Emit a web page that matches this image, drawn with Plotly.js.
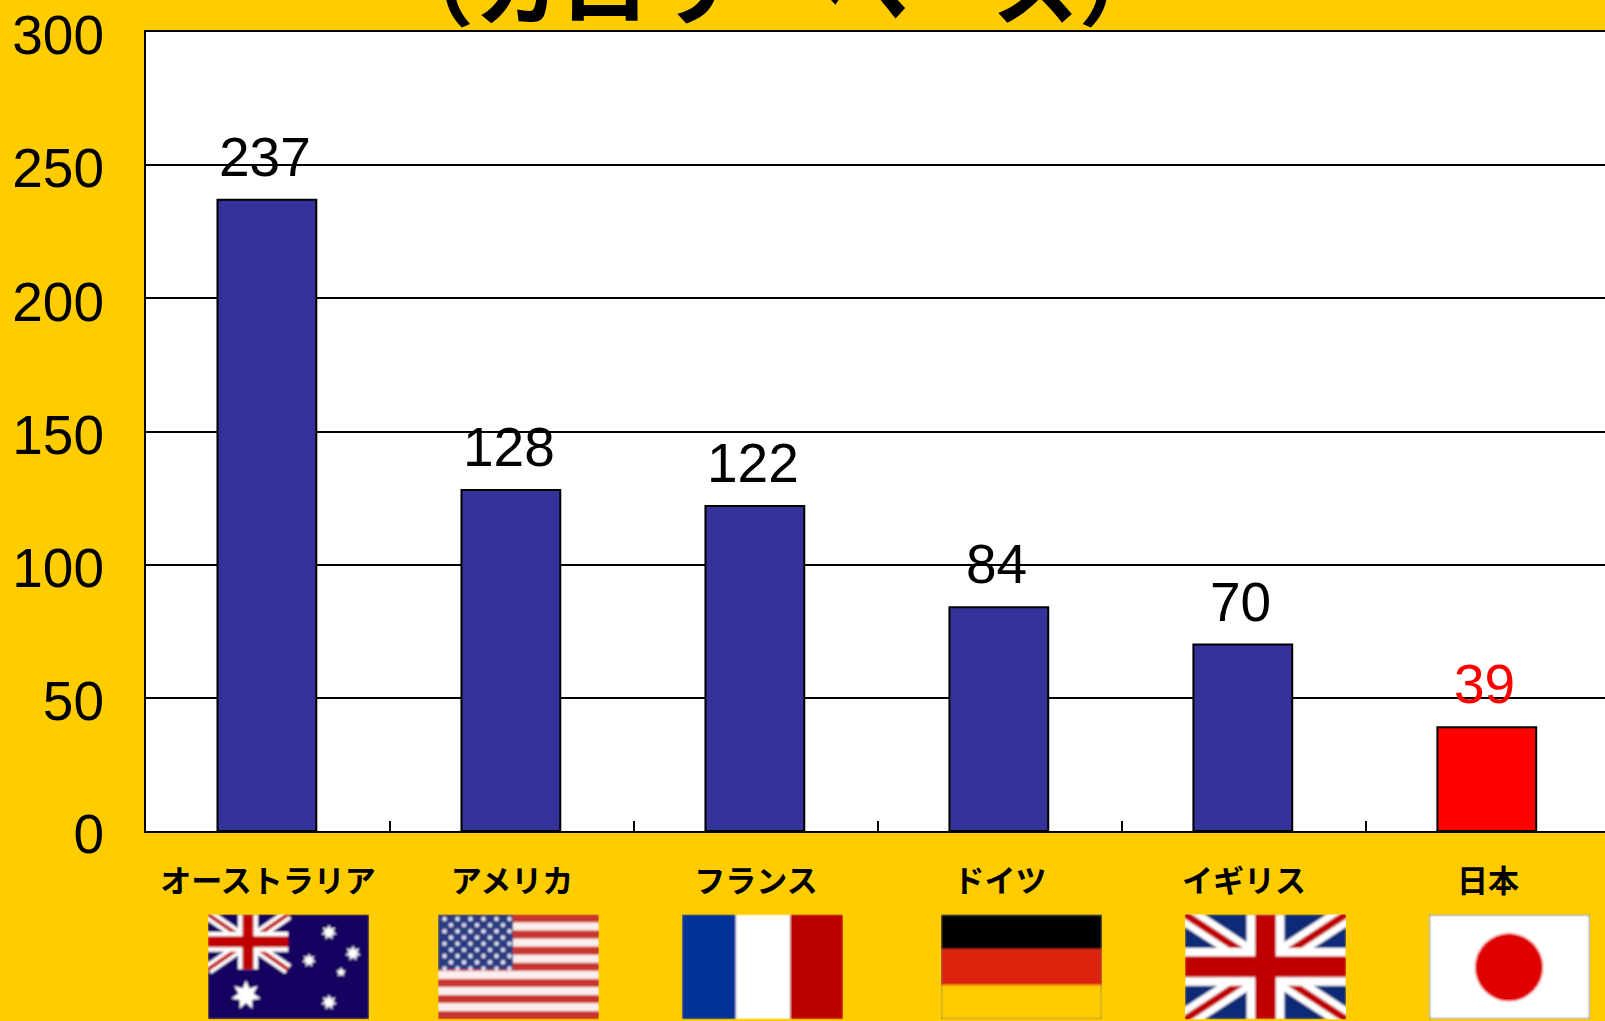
<!DOCTYPE html>
<html><head><meta charset="utf-8">
<script src="https://cdn.plot.ly/plotly-3.0.1.min.js"></script>
<style>html,body{margin:0;padding:0;background:#FFCC00;overflow:hidden}</style>
</head><body><div id="c" style="width:1605px;height:1021px"></div>
<script>
const categories = ['オーストラリア','アメリカ','フランス','ドイツ','イギリス','日本'];
const values = [237,128,122,84,70,39];
const barColors = ['#333399','#333399','#333399','#333399','#333399','#FF0000'];
const labelColors = ['#000','#000','#000','#000','#000','#FF0000'];
const yTicks = [0,50,100,150,200,250,300];
const titleText = '（カロリーベース）';

const svg = s => 'data:image/svg+xml;charset=utf-8,' + encodeURIComponent(
  '<svg xmlns="http://www.w3.org/2000/svg" viewBox="0 0 161 105" width="161" height="105" preserveAspectRatio="none">' +
  '<defs><filter id="b" x="0" y="0" width="1" height="1"><feGaussianBlur stdDeviation="0.8" edgeMode="duplicate"/></filter></defs><g filter="url(#b)">' + s + '</g></svg>');

function union(w,h){
  return `<rect width="${w}" height="${h}" fill="#0f2a78"/>
  <path d="M0 0L${w} ${h}M${w} 0L0 ${h}" stroke="#fff" stroke-width="${h*0.2}"/>
  <path d="M0 0L${w} ${h}M${w} 0L0 ${h}" stroke="#c00000" stroke-width="${h*0.07}"/>
  <path d="M${w/2} 0V${h}M0 ${h/2}H${w}" stroke="#fff" stroke-width="${h*0.36}"/>
  <path d="M${w/2} 0V${h}M0 ${h/2}H${w}" stroke="#c00000" stroke-width="${h*0.2}"/>`;
}
function star(cx,cy,r,n){
  let p=[];
  for(let i=0;i<n*2;i++){const a=Math.PI*i/n-Math.PI/2,q=i%2?r*0.5:r;p.push((cx+q*Math.cos(a)).toFixed(1)+','+(cy+q*Math.sin(a)).toFixed(1));}
  return `<polygon points="${p.join(' ')}" fill="#fff"/>`;
}
const flagAU = svg(`<rect width="161" height="105" fill="#120060"/>${union(80,55).replace('#0f2a78','#120060')}`+
  star(121,18,8,7)+star(145,39,8,7)+star(101,46,7,7)+star(133,58,5,5)+star(121,88,8,7)+star(38,81,15,7));
let st='';for(let i=0;i<13;i++){st+=`<rect y="${i*105/13}" width="161" height="${105/13+0.2}" fill="${i%2?'#fbeeee':'#c8352f'}"/>`;}
let us='';for(let r=0;r<9;r++){for(let c=0;c<(r%2?5:6);c++){us+=`<circle cx="${(r%2?13:6.5)+c*13}" cy="${4.5+r*6.2}" r="2.2" fill="#e8e8f8"/>`;}}
const flagUS = svg(st+`<rect width="75" height="55" fill="#2a3a80"/>`+us);
const flagFR = svg('<rect width="54" height="105" fill="#003399"/><rect x="54" width="54" height="105" fill="#fff"/><rect x="108" width="53" height="105" fill="#BB0000"/>');
const flagDE = svg('<rect width="161" height="35" fill="#000"/><rect y="35" width="161" height="36" fill="#DD2211"/><rect y="71" width="161" height="34" fill="#FFCC00"/><rect width="161" height="105" fill="none" stroke="#555" stroke-width="1"/>');
const flagUK = svg(union(161,105));
const flagJP = svg('<rect width="161" height="105" fill="#fff" stroke="#888" stroke-width="2"/><ellipse cx="80" cy="53" rx="34" ry="34" fill="#E00000"/>');
const flags = [flagAU,flagUS,flagFR,flagDE,flagUK,flagJP];
const flagX = [208,438,682,941,1185,1429];
const W=1605,H=1021,T=31.5,B=831.5,L=146;

const images = flags.map((src,i)=>({source:src,xref:'paper',yref:'paper',xanchor:'left',yanchor:'top',
  x:(flagX[i]-L)/(W-L), y:(B-915)/(B-T), sizex:161/(W-L), sizey:105/(B-T),
  sizing:'stretch',layer:'above'}));

const annotations = categories.map((c,i)=>({x:c,y:values[i],xref:'x',yref:'y',text:String(values[i]),showarrow:false,
  yanchor:'bottom',xshift:-3,yshift:10,font:{family:'Liberation Sans',size:55,color:labelColors[i]}}));
annotations.push({xref:'paper',yref:'paper',x:(776-L)/(W-L),y:(B+20)/(B-T),yanchor:'middle',xanchor:'center',
  text:titleText,showarrow:false,font:{family:'Noto Sans CJK JP',size:87,weight:700,color:'#000'}});

Plotly.newPlot('c',[{type:'bar',x:categories,y:values,width:0.405,offset:-0.207,
  marker:{color:barColors,line:{color:'#000',width:2}},hoverinfo:'x+y'}],{
  width:W,height:H,paper_bgcolor:'#FFCC00',plot_bgcolor:'#fff',showlegend:false,
  margin:{l:L,r:0,t:T,b:H-B,pad:0},
  xaxis:{type:'category',categoryorder:'array',categoryarray:categories,range:[-0.5,5.48],
    tickson:'boundaries',ticks:'inside',ticklen:10,tickwidth:2,tickcolor:'#000',
    showline:true,mirror:true,linecolor:'#000',linewidth:2,showgrid:false,ticklabelstandoff:22,
    tickfont:{family:'Noto Sans CJK JP',size:31,weight:700,color:'#000'}},
  yaxis:{range:[0,300],tickmode:'array',tickvals:yTicks,ticks:'inside',ticklen:16,tickwidth:2,tickcolor:'#000',
    showline:true,mirror:true,linecolor:'#000',linewidth:2,showgrid:true,gridcolor:'#000',gridwidth:2,zeroline:false,
    ticklabelstandoff:29,ticklabelshift:3,ticklabeloverflow:'allow',tickfont:{family:'Liberation Sans',size:55,color:'#000'}},
  images:images,annotations:annotations
},{displayModeBar:false});
</script></body></html>
